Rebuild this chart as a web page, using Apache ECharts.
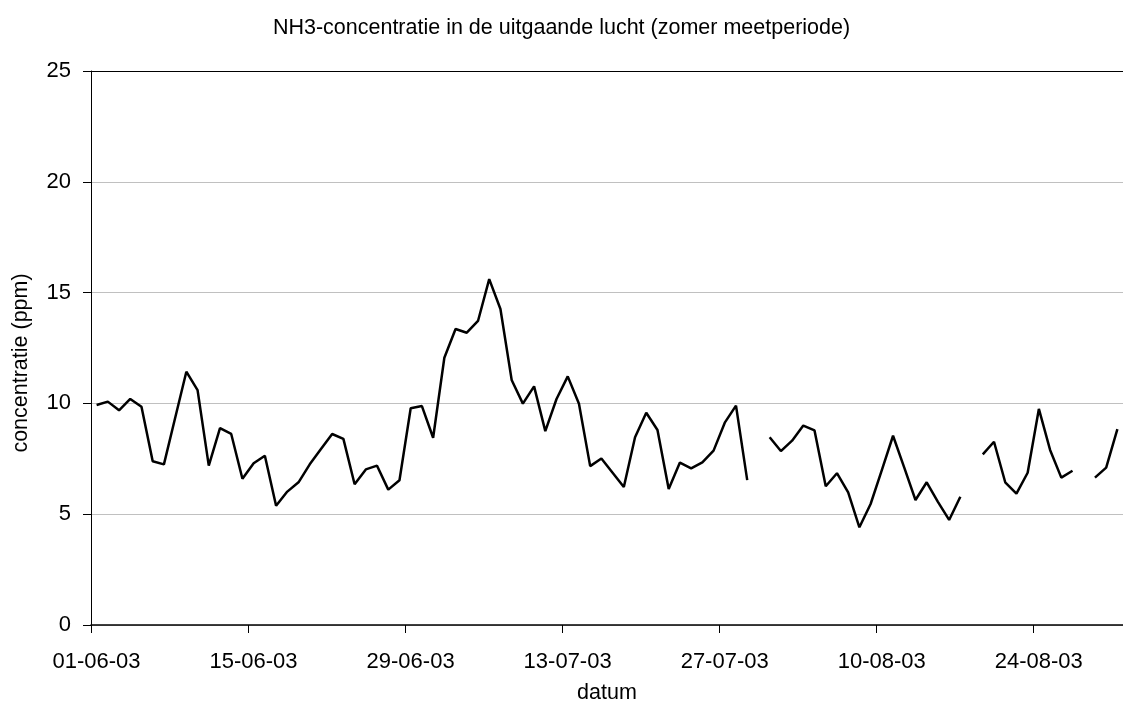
<!DOCTYPE html>
<html>
<head>
<meta charset="utf-8">
<script src="https://cdn.jsdelivr.net/npm/echarts@6/dist/echarts.min.js"></script>
<style>
  html, body { margin: 0; padding: 0; background: #fff; }
  #chart { width: 1123px; height: 711px; }
</style>
</head>
<body>
<div id="chart"></div>
<script>
// daily values from 01-06-03 to 31-08-03 (null = no measurement)
const values = [
  9.93, 10.08, 9.69, 10.20, 9.85, 7.39, 7.25, 9.34, 11.43, 10.60,
  7.19, 8.88, 8.62, 6.60, 7.30, 7.64, 5.38, 6.02, 6.44, 7.25,
  7.94, 8.62, 8.40, 6.35, 7.02, 7.19, 6.11, 6.53, 9.78, 9.88,
  8.45, 12.06, 13.36, 13.19, 13.72, 15.61, 14.26, 11.06, 9.99, 10.77,
  8.75, 10.20, 11.22, 9.98, 7.17, 7.51, 6.87, 6.23, 8.47, 9.58,
  8.80, 6.14, 7.33, 7.07, 7.34, 7.87, 9.13, 9.90, 6.54, null,
  8.47, 7.85, 8.32, 9.00, 8.78, 6.26, 6.85, 5.99, 4.41, 5.46,
  6.99, 8.54, 7.10, 5.64, 6.44, 5.56, 4.74, 5.79, null, 7.70,
  8.27, 6.44, 5.93, 6.87, 9.75, 7.90, 6.65, 6.96, null, 6.65,
  7.10, 8.84
];
const tickLabels = ['01-06-03', '15-06-03', '29-06-03', '13-07-03', '27-07-03', '10-08-03', '24-08-03'];
const yTicks = [0, 5, 10, 15, 20, 25];

const font = '"Liberation Sans", Arial, sans-serif';

// each day sits in the middle of its own day band
const seriesData = values.map((v, i) => [i + 0.5, v]);

const chart = echarts.init(document.getElementById('chart'));
chart.setOption({
  animation: false,
  title: {
    text: 'NH3-concentratie in de uitgaande lucht (zomer meetperiode)',
    left: 'center',
    top: 12,
    textStyle: { fontFamily: font, fontSize: 21.5, fontWeight: 'normal', color: '#000' }
  },
  grid: { left: 91, right: 0, top: 71, bottom: 86 },
  xAxis: {
    type: 'value',
    min: 0,
    max: values.length,
    interval: 14,
    name: 'datum',
    nameLocation: 'middle',
    nameGap: 57,
    nameTextStyle: { fontFamily: font, fontSize: 21.5, color: '#000' },
    axisLine: { lineStyle: { color: '#000', width: 1.5 } },
    axisTick: { show: true, length: 8, lineStyle: { color: '#000' } },
    axisLabel: {
      fontFamily: font, fontSize: 22, color: '#000', margin: 26,
      padding: [0, 0, 0, 11],
      showMaxLabel: false,
      formatter: v => tickLabels[Math.round(v / 14)] || ''
    },
    splitLine: { show: false }
  },
  yAxis: {
    type: 'value',
    min: yTicks[0],
    max: yTicks[yTicks.length - 1],
    interval: 5,
    name: 'concentratie (ppm)',
    nameLocation: 'middle',
    nameGap: 59,
    nameTextStyle: { fontFamily: font, fontSize: 21.5, color: '#000', padding: [0, 30, 0, 0] },
    axisLine: { show: true, lineStyle: { color: '#000', width: 1 } },
    axisTick: { show: true, length: 8, lineStyle: { color: '#000' } },
    axisLabel: { fontFamily: font, fontSize: 22, color: '#000', margin: 20 },
    splitLine: {
      show: true,
      lineStyle: { color: ['#c0c0c0', '#c0c0c0', '#c0c0c0', '#c0c0c0', '#c0c0c0', '#000'], width: 1 }
    }
  },
  series: [{
    type: 'line',
    data: seriesData,
    showSymbol: false,
    connectNulls: false,
    lineStyle: { color: '#000', width: 2.5 },
    itemStyle: { color: '#000' }
  }]
});
</script>
</body>
</html>
